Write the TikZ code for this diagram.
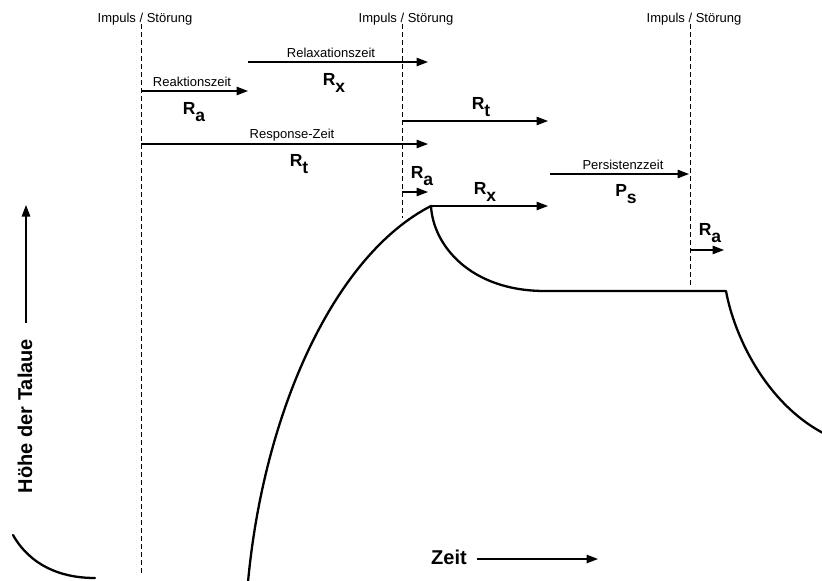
\documentclass[tikz,border=0pt]{standalone}
\usepackage{fontspec}
\setmainfont{Liberation Sans}
\usetikzlibrary{arrows.meta}
\newcommand{\Rsub}[2]{\textbf{#1}\raisebox{-0.4em}{\textbf{#2}}}
\begin{document}
\begin{tikzpicture}[x=1pt,y=-1pt,
  small/.style={font=\fontsize{13}{15}\selectfont, inner sep=0pt},
  sym/.style={font=\fontsize{17.5}{19}\selectfont, inner sep=0pt},
  big/.style={font=\fontsize{20}{22}\selectfont\bfseries, inner sep=0pt},
  impuls/.style={draw, line width=1pt, dash pattern=on 5pt off 3pt},
  timearrow/.style={draw, line width=1.3pt, -{Triangle[length=11.5pt,width=8.5pt]}},
  curve/.style={draw, line width=2.3pt, line cap=round, line join=round}]
\useasboundingbox (0,0) rectangle (822,581);

% impulse lines
\coordinate (i1t) at (141,24);  \coordinate (i1b) at (141,575);
\coordinate (i2t) at (402,24);  \coordinate (i2b) at (402,218);
\coordinate (i3t) at (690,24);  \coordinate (i3b) at (690,285);
\path[impuls] (i1t) -- (i1b);
\path[impuls] (i2t) -- (i2b);
\path[impuls] (i3t) -- (i3b);
\node[small] (L1) at (145,19) {Impuls / Störung};
\node[small] (L2) at (406,19) {Impuls / Störung};
\node[small] (L3) at (694,19) {Impuls / Störung};

% curve
\coordinate (c0) at (248,582);
\coordinate (peak) at (431,206);
\coordinate (p1) at (545,291);
\coordinate (p2) at (726,291);
\coordinate (c9) at (823,433);
\path[curve] (c0) .. controls (264,410) and (335,255) .. (peak)
  .. controls (433,245) and (470,291) .. (p1) -- (p2)
  .. controls (734,335) and (765,402) .. (c9);
\coordinate (l0) at (13,535);
\coordinate (l1) at (95,578);
\path[curve] (l0) .. controls (30,565) and (60,578) .. (l1);

% time arrows
\coordinate (ra1s) at (141,91);  \coordinate (ra1e) at (248,91);
\path[timearrow] (ra1s) -- (ra1e);
\node[small] (tRa) at (192,82) {Reaktionszeit};
\node[sym] (Ra1) at (194,112) {\Rsub{R}{a}};

\coordinate (rx1s) at (248,62);  \coordinate (rx1e) at (428,62);
\path[timearrow] (rx1s) -- (rx1e);
\node[small] (tRx) at (331,53) {Relaxationszeit};
\node[sym] (Rx1) at (334,83) {\Rsub{R}{x}};

\coordinate (rt1s) at (141,144);  \coordinate (rt1e) at (428,144);
\path[timearrow] (rt1s) -- (rt1e);
\node[small] (tRt) at (292,135) {Response-Zeit};
\node[sym] (Rt1) at (299,164) {\Rsub{R}{t}};

\coordinate (rt2s) at (402,121);  \coordinate (rt2e) at (548,121);
\path[timearrow] (rt2s) -- (rt2e);
\node[sym] (Rt2) at (481,107) {\Rsub{R}{t}};

\coordinate (ra2s) at (402,192);  \coordinate (ra2e) at (428,192);
\path[timearrow] (ra2s) -- (ra2e);
\node[sym] (Ra2) at (422,176) {\Rsub{R}{a}};

\coordinate (rx2e) at (548,206);
\path[timearrow] (peak) -- (rx2e);
\node[sym] (Rx2) at (485,192) {\Rsub{R}{x}};

\coordinate (pss) at (550,174);  \coordinate (pse) at (689,174);
\path[timearrow] (pss) -- (pse);
\node[small] (tPs) at (623,165) {Persistenzzeit};
\node[sym] (Ps) at (626,194) {\Rsub{P}{s}};

\coordinate (ra3s) at (690,250);  \coordinate (ra3e) at (724,250);
\path[timearrow] (ra3s) -- (ra3e);
\node[sym] (Ra3) at (710,233) {\Rsub{R}{a}};

% axes
\coordinate (ya) at (26,323);  \coordinate (yb) at (26,205);
\path[timearrow] (ya) -- (yb);
\node[big, rotate=90] (ylab) at (25,416) {Höhe der Talaue};

\node[big] (xlab) at (449,557) {Zeit};
\coordinate (xa) at (477,559);  \coordinate (xb) at (598,559);
\path[timearrow] (xa) -- (xb);
\end{tikzpicture}
\end{document}
